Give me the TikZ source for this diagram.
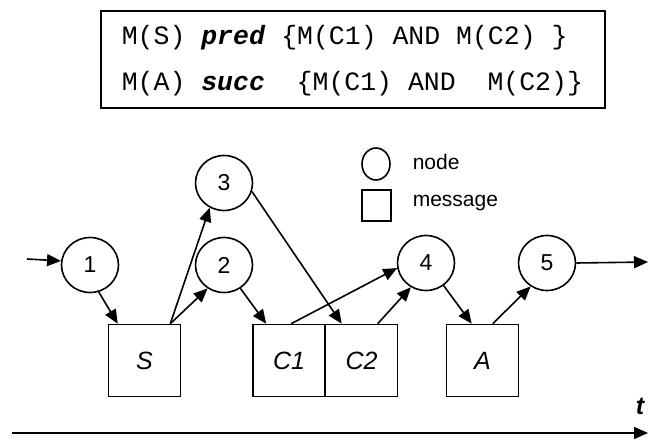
\documentclass[tikz,border=0pt]{standalone}
\usepackage{fontspec}
\setmainfont{Liberation Sans}
\newfontfamily\codefont{Liberation Mono}
\usetikzlibrary{shapes.geometric,arrows.meta}

\tikzset{
  every path/.style={line width=1.6pt},
  tip/.style={-{Triangle[length=14pt,width=12pt]}},
  state/.style={ellipse,draw,minimum width=57pt,minimum height=55pt,inner sep=0pt,
    font=\fontsize{23}{25}\selectfont},
  msg/.style={rectangle,draw,minimum width=72pt,minimum height=72pt,inner sep=0pt,
    font=\fontsize{25}{27}\selectfont\itshape},
  legtext/.style={anchor=west,inner sep=0pt,font=\fontsize{21}{23}\selectfont},
  codeline/.style={anchor=base west,inner sep=0pt,font=\codefont\fontsize{26.5}{30}\selectfont},
}

\begin{document}
\begin{tikzpicture}[x=1pt,y=-1pt]
\useasboundingbox (0,0) rectangle (648,441);

% rule box with the two conditions
\node[draw,rectangle,minimum width=504pt,minimum height=97pt,inner sep=0pt] (rules) at (353,59.5) {};
\node[codeline] (predline) at (121,45) {M(S)\ \textbf{\textit{pred}}\ \{M(C1)\ AND\ M(C2)\ \}};
\node[codeline] (succline) at (121,91) {M(A)\ \textbf{\textit{succ}}\ \ \{M(C1)\ AND\ \ M(C2)\}};

% legend
\node[ellipse,draw,minimum width=28pt,minimum height=32pt,inner sep=0pt] (legnode) at (376,164) {};
\node[rectangle,draw,minimum width=29pt,minimum height=31pt,inner sep=0pt] (legmsg) at (376.5,205.5) {};
\node[legtext] (legnodetext) at (412,162) {node};
\node[legtext] (legmsgtext) at (412,203) {message};

% nodes
\node[state] (n1) at (90,265) {1};
\node[state] (n2) at (224,265) {2};
\node[state] (n3) at (224,183) {3};
\node[state] (n4) at (426,263) {4};
\node[state] (n5) at (547,263) {5};

% messages
\node[msg] (S)  at (144.5,360.5) {S};
\node[msg] (C1) at (289,360.5) {C1};
\node[msg] (C2) at (361.5,360.5) {C2};
\node[msg] (A)  at (482.5,360.5) {A};

% free ends
\coordinate (in) at (27,259);
\coordinate (out) at (648,262);
\coordinate (t0) at (12,433);
\coordinate (t1) at (648,433);

% connectors
\draw[tip] (in) -- (n1.172);
\draw[tip] (n1.-72) -- ([xshift=10pt]S.north west);
\draw[tip] ([xshift=-11pt]S.north east) -- (n3.-120);
\draw[tip] ([xshift=-11pt]S.north east) -- (n2.-125);
\draw[tip] (n2.-55) -- ([xshift=14pt]C1.north west);
\draw[tip] (n3.-17) -- ([xshift=17pt]C2.north west);
\draw[tip] ([xshift=39pt]C1.north west) -- (n4.190);
\draw[tip] ([xshift=53pt]C2.north west) -- (n4.-122);
\draw[tip] (n4.-52) -- ([xshift=26pt]A.north west);
\draw[tip] ([xshift=47pt]A.north west) -- (n5.-125);
\draw[tip] (n5.east) -- (out);

% time axis
\draw[tip] (t0) -- (t1);
\node[inner sep=0pt,font=\fontsize{25}{27}\selectfont\bfseries\itshape] (tlabel) at (640,406) {t};
\end{tikzpicture}
\end{document}
